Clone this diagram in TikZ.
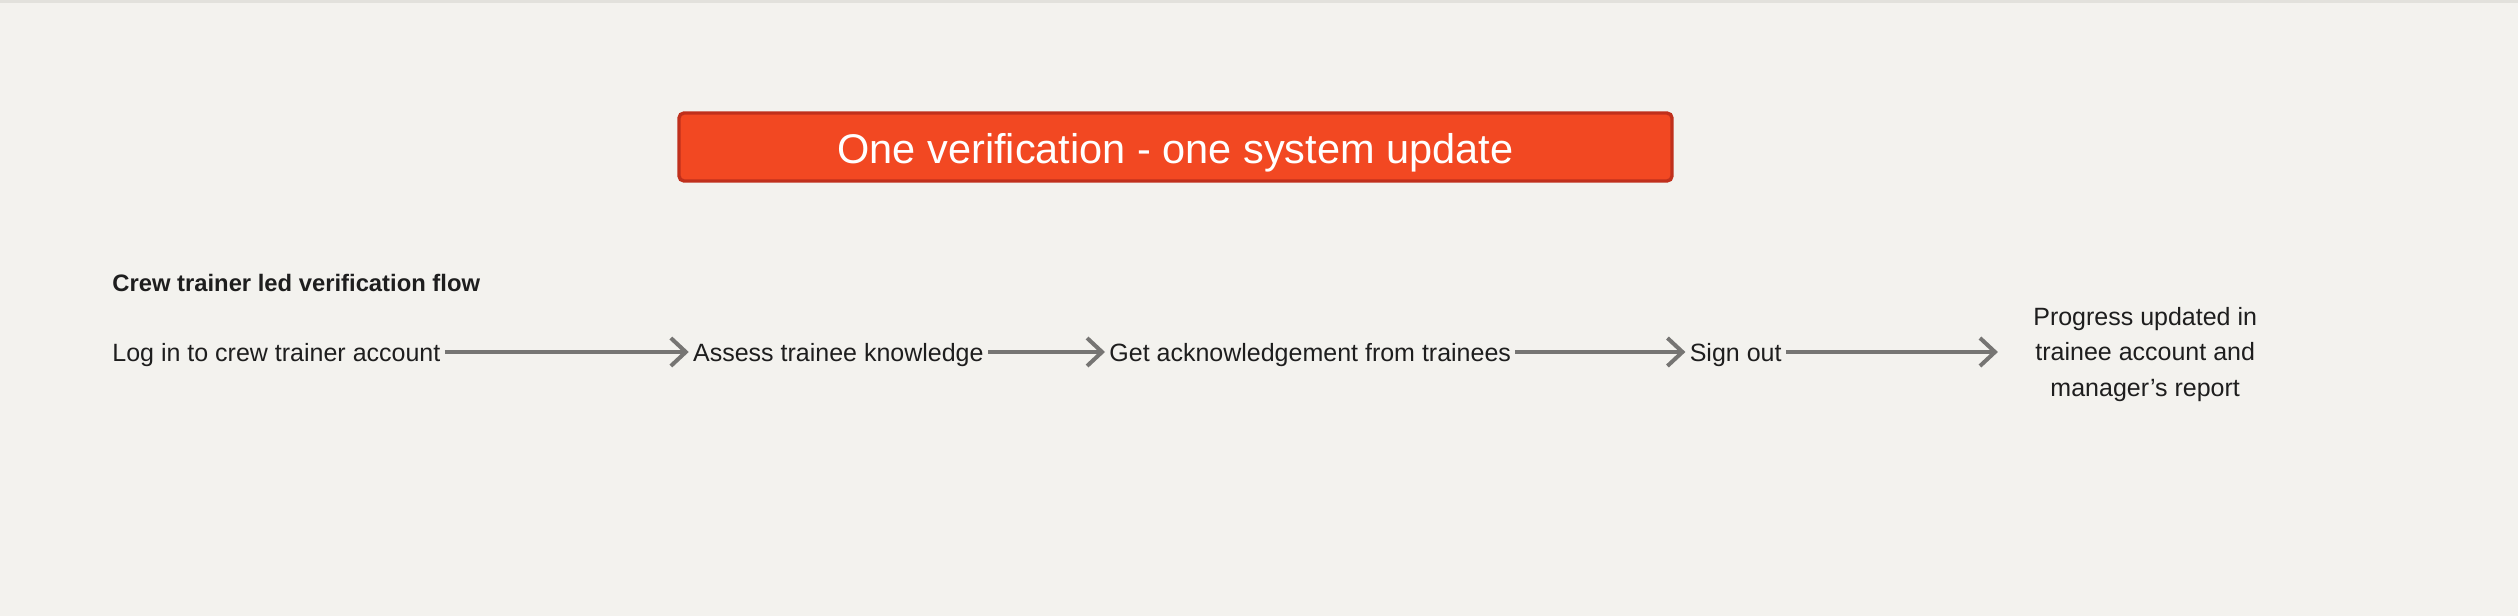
\documentclass[tikz,border=0pt]{standalone}
\usepackage{fontspec}
\setmainfont{Liberation Sans}
\usetikzlibrary{arrows.meta}
\usetikzlibrary{positioning}

\definecolor{canvas}{HTML}{F3F2EE}
\definecolor{canvasEdge}{HTML}{E2E1DC}
\definecolor{bannerRed}{HTML}{F24822}
\definecolor{bannerEdge}{HTML}{C0301C}
\definecolor{flowGrey}{HTML}{767573}
\definecolor{flowInk}{HTML}{1E1E1E}

\begin{document}
\begin{tikzpicture} [
        x = 0.5pt,
        y = -0.5pt,
        every node/.style = {
          align = center,
          text = flowInk,
          font = \fontsize{12.5}{17.75}\selectfont,
        },
        banner/.style = {
          draw = bannerEdge,
          fill = bannerRed,
          line width = 1.7pt,
          rounded corners = 2.5pt,
          minimum width = 496.5pt,
          minimum height = 34pt,
          text = white,
          text height = 16.9pt,
          text depth = 0pt,
          font = \fontsize{20.75}{24}\selectfont,
        },
        stepbox/.style = {
          inner sep = 2pt,
          text height = 9pt,
          text depth = 0pt,
        },
        flow/.style = {
          draw = flowGrey,
          line width = 2pt,
          -{Straight Barb[length = 7.5pt, width = 14pt, line width = 2pt]},
        },
      ]

    % canvas
    \fill [canvas] (0,0) rectangle (2518,616);
    \fill [canvasEdge] (0,0) rectangle (2518,3);

    % banner
    \node [banner] (banner) at (1175.5,147) {One verification - one system update};

    % textboxes
    \node [anchor = base west, inner sep = 0pt, font = \fontsize{11.9}{14}\selectfont\bfseries] (flowTitle) at (112,291) {Crew trainer led verification flow};

    \node [stepbox, anchor = west] (logIn) at (108,352) {Log in to crew trainer account};
    \node [stepbox, right = 122pt of logIn] (assess) {Assess trainee knowledge};
    \node [stepbox, right = 58.5pt of assess] (acknowledge) {Get acknowledgement from trainees};
    \node [stepbox, right = 85pt of acknowledge] (signOut) {Sign out};
    \node [inner sep = 2pt, right = 121.5pt of signOut, yshift = -1.25pt] (progress) {Progress updated in\\trainee account and\\manager’s report};

    \draw[flow] (logIn) -- (assess);
    \draw[flow] (assess) -- (acknowledge);
    \draw[flow] (acknowledge) -- (signOut);
    \draw[flow, shorten > = 15.5pt] (signOut.east) -- (signOut.east -| progress.west);
  \end{tikzpicture}
\end{document}
